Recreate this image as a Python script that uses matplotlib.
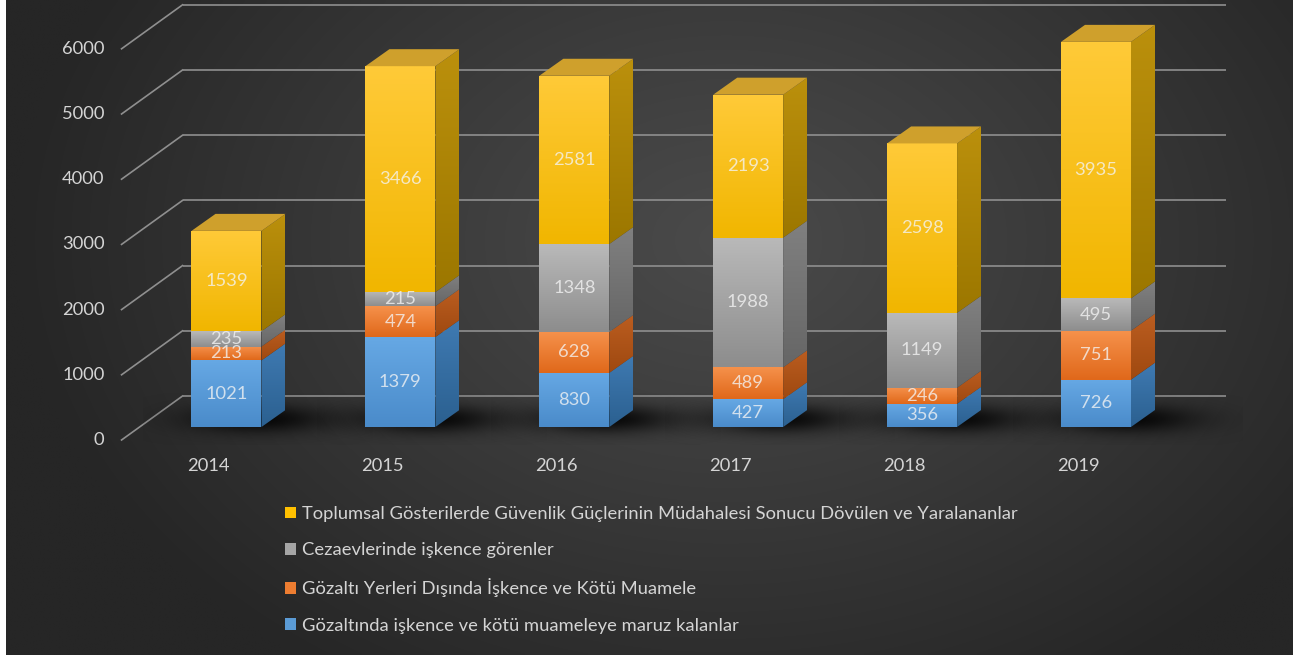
import numpy as np
import matplotlib
matplotlib.use('Agg')
import matplotlib.pyplot as plt
from matplotlib.patches import Polygon, Patch
from matplotlib.colors import to_rgb

# ---------------- data ----------------
years = ['2014', '2015', '2016', '2017', '2018', '2019']
gozaltinda = [1021, 1379, 830, 427, 356, 726]
gozalti_disi = [213, 474, 628, 489, 246, 751]
cezaevleri = [235, 215, 1348, 1988, 1149, 495]
toplumsal = [1539, 3466, 2581, 2193, 2598, 3935]
series_values = [gozaltinda, gozalti_disi, cezaevleri, toplumsal]
series_names = [
    'Gözaltında işkence ve kötü muameleye maruz kalanlar',
    'Gözaltı Yerleri Dışında İşkence ve Kötü Muamele',
    'Cezaevlerinde işkence görenler',
    'Toplumsal Gösterilerde Güvenlik Güçlerinin Müdahalesi Sonucu Dövülen ve Yaralananlar',
]
y_ticks = [0, 1000, 2000, 3000, 4000, 5000, 6000]

# ---------------- styles ----------------
base_colors = ['#5B9BD5', '#ED7D31', '#A5A5A5', '#FFC000']
front_grad = [('#66a8e4', '#4a8bca'), ('#f5914b', '#e0681a'),
              ('#b9b9b9', '#8d8d8d'), ('#ffca38', '#f1b600')]
side_grad = [('#3f7ab2', '#2b6090'), ('#bb5d20', '#9f4910'),
             ('#808080', '#666666'), ('#bb900c', '#9c7700')]
top_color = ['#4d86bd', '#c96a2a', '#9a9a9a', '#cfa02c']

FONT = 'Lato'
plt.rcParams['font.family'] = [FONT, 'DejaVu Sans']

W, H = 1304, 655
PX_CAT = 173.9          # pixels per category
PX_VAL = 65.2 / 1000.0  # pixels per value unit
X0_PX = 226.5           # x pixel of first bar centre
Y0_PX = 427.0           # y pixel (from top) of value 0 on bar plane
BAR_W = 70 / PX_CAT


def dxp(px):
    return px / PX_CAT


def dyp(px):
    return px / PX_VAL


BACK = (dxp(43), dyp(31))      # bar plane -> back wall
FRONT = (dxp(-18), dyp(-13))   # bar plane -> front floor edge
DEPTH = (dxp(24), dyp(17))     # bar depth

fig = plt.figure(figsize=(W / 100, H / 100), dpi=100, facecolor='white')
ax = fig.add_axes([0, 0, 1, 1])
ax.set_autoscale_on(False)
XL = (-X0_PX / PX_CAT, (W - X0_PX) / PX_CAT)
YL = (-(H - Y0_PX) / PX_VAL, Y0_PX / PX_VAL)
ax.set_xlim(*XL)
ax.set_ylim(*YL)
ax.axis('off')

# ---------------- background ----------------
gx, gy = np.meshgrid(np.linspace(0, W, 400), np.linspace(0, H, 200))
r = np.sqrt(((gx - 730) / 720) ** 2 + ((gy - 240) / 520) ** 2)
r = np.clip(r, 0, 1) ** 1.1
cc = np.array(to_rgb('#4a4a4a'))
ce = np.array(to_rgb('#262626'))
bg = cc[None, None, :] * (1 - r[..., None]) + ce[None, None, :] * r[..., None]
ax.imshow(bg, extent=(6 / W, 1293 / W, 0, 1), transform=ax.transAxes,
          origin='upper', aspect='auto', zorder=0, interpolation='bilinear')

n = len(years)
xl, xr = -0.5, n - 0.5
grid_c = '#8f8f8f'
txt_c = '#d4d4d4'
for v in y_ticks:
    ax.plot([xl + BACK[0], xr + BACK[0]], [v + BACK[1]] * 2, color=grid_c, lw=1.2, zorder=1,
            solid_capstyle='butt')
    ax.plot([xl + FRONT[0], xl + BACK[0]], [v + FRONT[1], v + BACK[1]], color=grid_c, lw=1.2,
            zorder=1)
    ax.text(xl + FRONT[0] - dxp(17), v + FRONT[1], str(v), ha='right', va='center',
            fontsize=13.2, color=txt_c, zorder=5)

for i, yr in enumerate(years):
    ax.text(i + FRONT[0], FRONT[1] - dyp(26), yr, ha='center', va='center', fontsize=13.2,
            color=txt_c, zorder=5)


def grad_fill(verts, c_top, c_bot, zorder):
    poly = Polygon(verts, closed=True, facecolor='none', edgecolor='none', zorder=zorder)
    ax.add_patch(poly)
    xs = [p[0] for p in verts]
    ys = [p[1] for p in verts]
    t = np.linspace(0, 1, 64)[:, None]
    ct, cb = np.array(to_rgb(c_top)), np.array(to_rgb(c_bot))
    img = (ct * (1 - t) + cb * t)[:, None, :]
    im = ax.imshow(img, extent=(min(xs), max(xs), min(ys), max(ys)), origin='upper',
                   aspect='auto', interpolation='bilinear', zorder=zorder)
    im.set_clip_path(poly)


# ---------------- shadows ----------------
sx, sy = np.meshgrid(np.linspace(-1, 1, 200), np.linspace(-1, 1, 60))
alpha = 0.85 * np.exp(-((sx / 0.42) ** 2 + (sy / 0.38) ** 2) / 2)
shadow = np.zeros((60, 200, 4))
shadow[..., 3] = alpha
for i in range(n):
    cx, cy = i + dxp(32), dyp(8)
    ax.imshow(shadow, extent=(cx - dxp(115), cx + dxp(115), cy - dyp(26), cy + dyp(26)),
              aspect='auto', zorder=1.5, interpolation='bilinear')

# ---------------- bars ----------------
for i in range(n):
    x0, x1 = i - BAR_W / 2, i + BAR_W / 2
    bottom = 0
    for s, vals in enumerate(series_values):
        v = vals[i]
        top = bottom + v
        z = 3
        grad_fill([(x0, bottom), (x1, bottom), (x1, top), (x0, top)],
                  front_grad[s][0], front_grad[s][1], z)
        grad_fill([(x1, bottom), (x1 + DEPTH[0], bottom + DEPTH[1]),
                   (x1 + DEPTH[0], top + DEPTH[1]), (x1, top)],
                  side_grad[s][0], side_grad[s][1], z)
        ax.text(i, bottom + v / 2, str(v), ha='center', va='center', fontsize=13.2,
                color='#f4f4f4', alpha=0.78, zorder=6)
        bottom = top
    ax.add_patch(Polygon([(x0, bottom), (x1, bottom), (x1 + DEPTH[0], bottom + DEPTH[1]),
                          (x0 + DEPTH[0], bottom + DEPTH[1])], closed=True,
                         facecolor=top_color[-1], edgecolor='none', zorder=3))

# ---------------- legend ----------------
handles = [Patch(facecolor=base_colors[s], edgecolor='none') for s in range(3, -1, -1)]
labels = [series_names[s] for s in range(3, -1, -1)]
fig.legend(handles, labels, loc='upper left', bbox_to_anchor=(285 / W, 1 - 506 / H),
           frameon=False, fontsize=13.25, labelcolor=txt_c, handlelength=0.6,
           handleheight=0.6, handletextpad=0.35, labelspacing=1.1, borderpad=0,
           borderaxespad=0)

ax.set_xlim(*XL)
ax.set_ylim(*YL)
fig.savefig('out.png', dpi=100, facecolor='white')
